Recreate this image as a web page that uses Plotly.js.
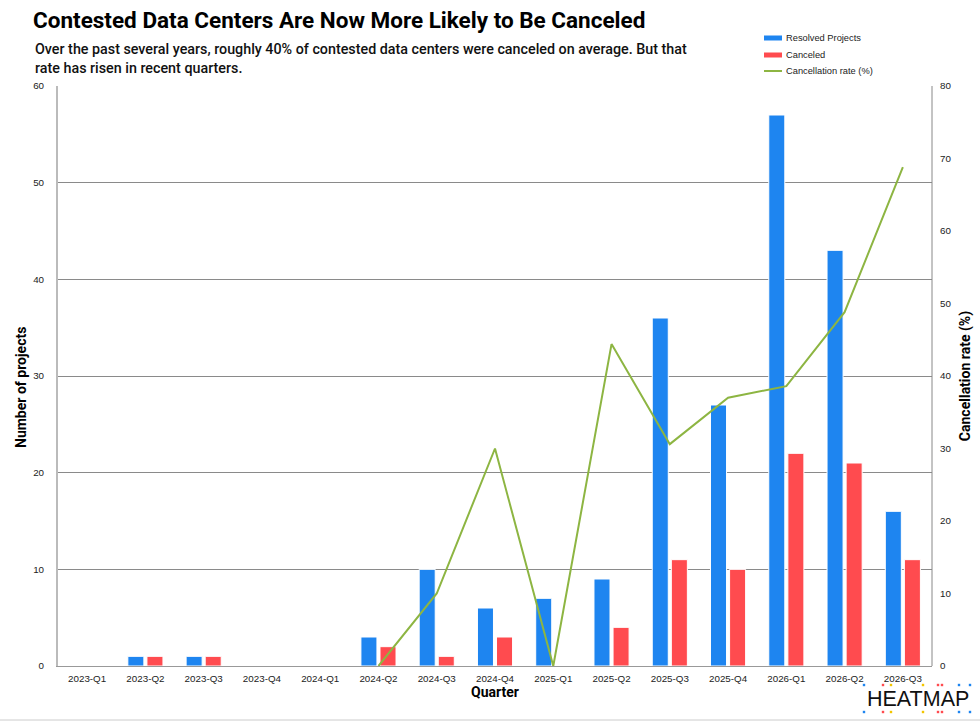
<!DOCTYPE html>
<html>
<head>
<meta charset="utf-8">
<script src="https://cdn.plot.ly/plotly-3.0.1.min.js"></script>
<style>
html,body{margin:0;padding:0;background:#fff;}
#chart{width:980px;height:721px;}
</style>
</head>
<body>
<div id="chart"></div>
<script>
const quarters = ["2023-Q1","2023-Q2","2023-Q3","2023-Q4","2024-Q1","2024-Q2","2024-Q3","2024-Q4","2025-Q1","2025-Q2","2025-Q3","2025-Q4","2026-Q1","2026-Q2","2026-Q3"];
const resolvedProjects = [0,1,1,0,0,3,10,6,7,9,36,27,57,43,16];
const canceled = [0,1,1,0,0,2,1,3,0,4,11,10,22,21,11];
const cancellationRate = [null,null,null,null,null,0,10,30,0,44.4,30.6,37.0,38.6,48.8,68.8];

const blue = "#1E85F0";
const red = "#FF4B4F";
const green = "#8DB542";

const traces = [
  {type:"bar", name:"Resolved Projects", x:quarters, y:resolvedProjects,
   marker:{color:blue, line:{color:"#ffffff", width:1}}, yaxis:"y"},
  {type:"bar", name:"Canceled", x:quarters, y:canceled,
   marker:{color:red, line:{color:"#ffffff", width:1}}, yaxis:"y"},
  {type:"scatter", mode:"lines", name:"Cancellation rate (%)", x:quarters, y:cancellationRate,
   line:{color:green, width:2}, yaxis:"y2", connectgaps:false}
];

const L = 58, R = 932, T = 86, B = 666;
const W = R - L, H = B - T;
const px = v => (v - L) / W;
const py = v => (B - v) / H;

const tickFont = {family:"Liberation Sans, Arial, sans-serif", size:9.8, color:"#222"};
const titleFont = {family:"Roboto, sans-serif", size:14, color:"#000", weight:700};

const legendItems = [
  {label:"Resolved Projects", color:blue, h:5, y:38},
  {label:"Canceled", color:red, h:5, y:55},
  {label:"Cancellation rate (%)", color:green, h:2, y:71}
];

const shapes = [];
const annotations = [];
legendItems.forEach(it => {
  shapes.push({type:"rect", xref:"paper", yref:"paper",
    x0:px(764), x1:px(782), y0:py(it.y + it.h/2), y1:py(it.y - it.h/2),
    fillcolor:it.color, line:{width:0}});
  annotations.push({xref:"paper", yref:"paper", x:px(784), y:py(it.y), xanchor:"left", yanchor:"middle",
    text:it.label, showarrow:false, font:{family:"Liberation Sans, Arial, sans-serif", size:9.3, color:"#222"}});
});

// subtitle
annotations.push({xref:"paper", yref:"paper", x:px(33), y:py(39), xanchor:"left", yanchor:"top", align:"left",
  text:"Over the past several years, roughly 40% of contested data centers were canceled on average. But that<br>rate has risen in recent quarters.",
  showarrow:false, font:{family:"Roboto, sans-serif", size:14.3, color:"#111", weight:500}});

// left axis title
annotations.push({xref:"paper", yref:"paper", x:px(21), y:py(388), xanchor:"center", yanchor:"middle",
  textangle:-90, text:"Number of projects", showarrow:false, font:titleFont});

// logo
annotations.push({xref:"paper", yref:"paper", x:px(918), y:py(699), xanchor:"center", yanchor:"middle",
  text:"HEATMAP", showarrow:false, font:{family:"Liberation Sans, Arial, sans-serif", size:21.5, color:"#111"}});
const dotX = [[864,"#1E85F0"],[883,"#FF4B4F"],[891,"#F2C500"],[923,"#F2C500"],[938,"#FF4B4F"],[942,"#FF4B4F"],[959,"#1E85F0"],[970,"#1E85F0"]];
[685,712].forEach(yy => dotX.forEach(d => {
  shapes.push({type:"rect", xref:"paper", yref:"paper", x0:px(d[0]-1.2), x1:px(d[0]+1.2), y0:py(yy+1.2), y1:py(yy-1.2),
    fillcolor:d[1], line:{width:0}});
}));
// bottom rule
shapes.push({type:"line", xref:"paper", yref:"paper", x0:px(0), x1:px(980), y0:py(720), y1:py(720), line:{color:"#cccccc", width:1}});
// right frame line
shapes.push({type:"line", xref:"paper", yref:"paper", x0:1, x1:1, y0:0, y1:1, line:{color:"#888888", width:1}});

const layout = {
  width:980, height:721,
  margin:{l:L, r:980-R, t:T, b:721-B, pad:0},
  paper_bgcolor:"#ffffff", plot_bgcolor:"#ffffff",
  showlegend:false,
  barmode:"group", bargap:0.345, bargroupgap:0.16,
  title:{text:"Contested Data Centers Are Now More Likely to Be Canceled",
    xref:"container", yref:"container", x:33/980, xanchor:"left", y:1-20/721, yanchor:"middle",
    font:{family:"Roboto, sans-serif", size:22.5, color:"#000", weight:700}},
  font:{family:"Liberation Sans, Arial, sans-serif", size:9.8, color:"#222"},
  xaxis:{type:"category", showgrid:false, showline:true, linecolor:"#999", linewidth:1,
    ticks:"", tickfont:tickFont, ticklabelstandoff:3,
    title:{text:"Quarter", standoff:3, font:titleFont}},
  yaxis:{range:[0,60], dtick:10, showgrid:true, gridcolor:"#8a8a8a", gridwidth:1,
    showline:true, linecolor:"#bbbbbb", linewidth:2, ticks:"", zeroline:true, zerolinecolor:"#999",
    tickfont:tickFont, ticklabelstandoff:10},
  yaxis2:{range:[0,80], dtick:10, overlaying:"y", side:"right", showgrid:false, zeroline:false,
    showline:false, ticks:"", tickfont:tickFont, ticklabelstandoff:7,
    title:{text:"Cancellation rate (%)", standoff:9, font:titleFont}},
  shapes:shapes, annotations:annotations
};

Plotly.newPlot("chart", traces, layout, {displayModeBar:false, staticPlot:true});
</script>
</body>
</html>
